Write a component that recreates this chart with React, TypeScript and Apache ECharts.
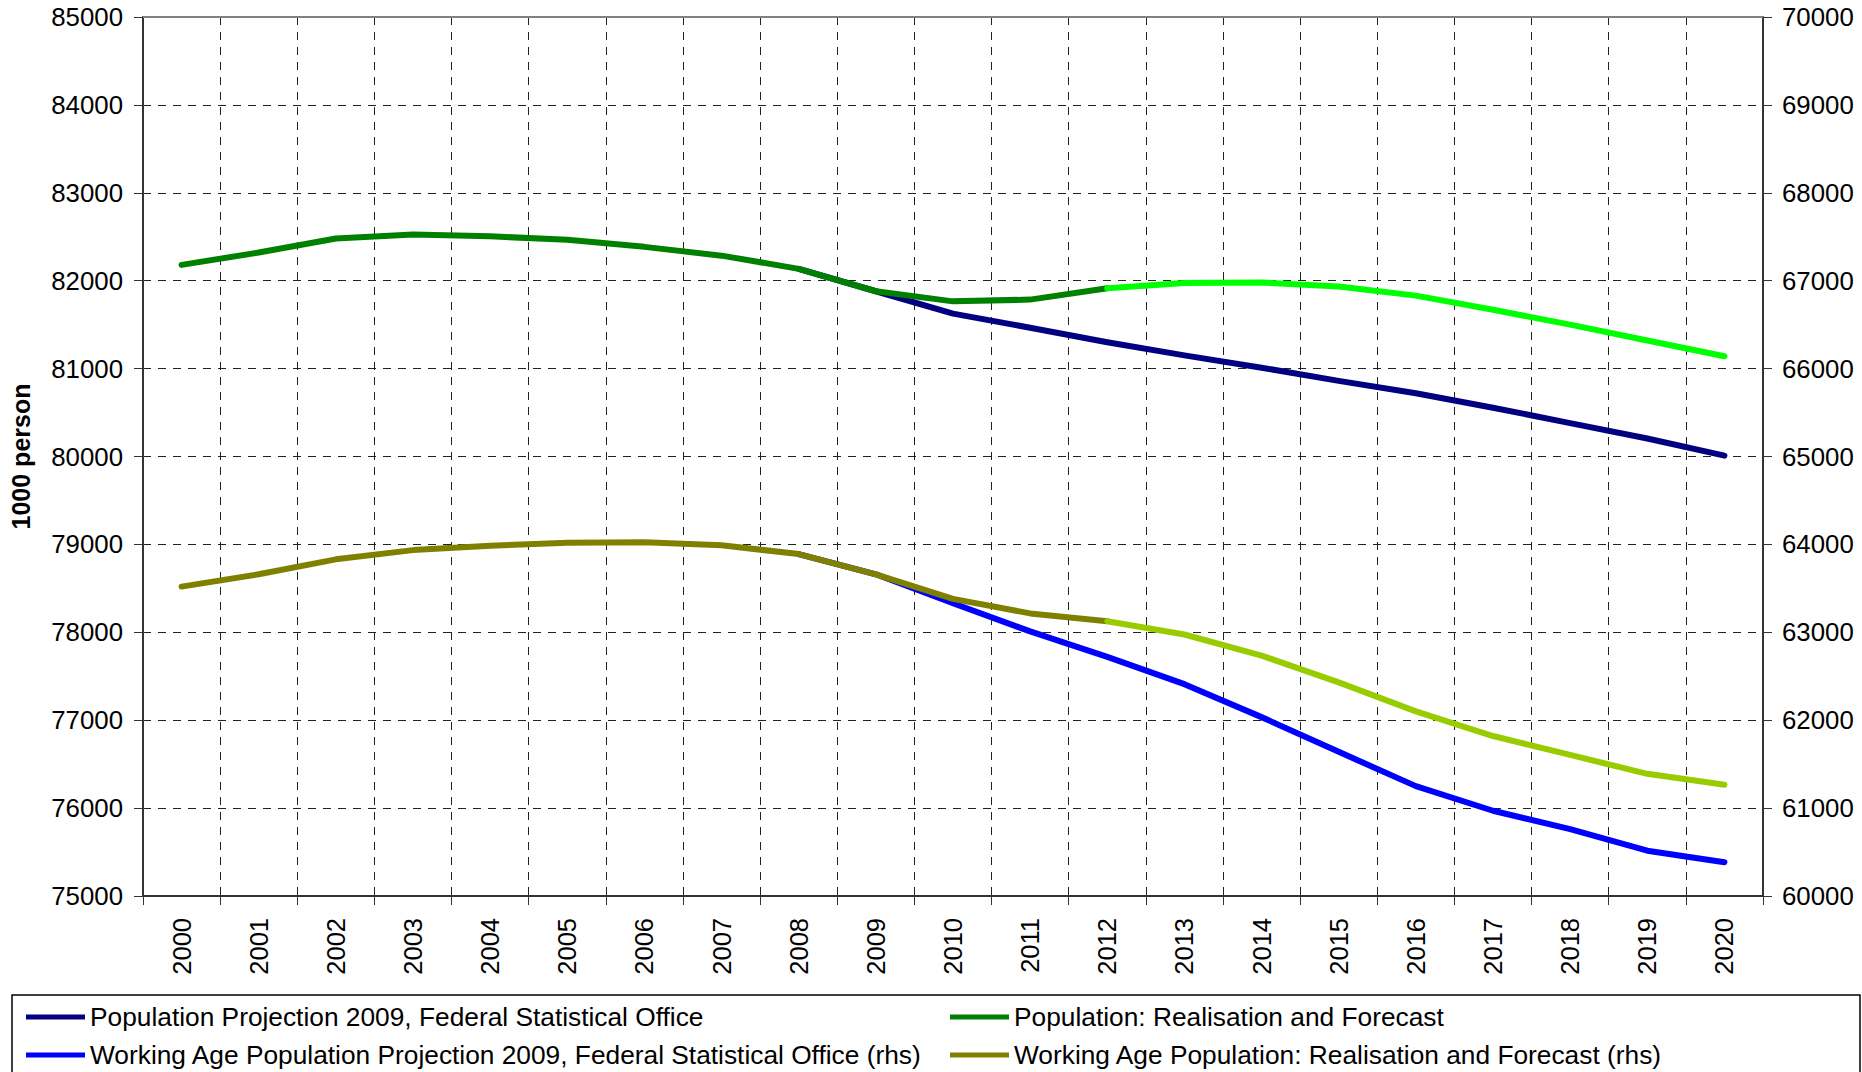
import React, { useEffect, useRef } from "react";
import * as echarts from "echarts";

const years = ["2000","2001","2002","2003","2004","2005","2006","2007","2008","2009","2010","2011","2012","2013","2014","2015","2016","2017","2018","2019","2020"];

const popProjection = [null,null,null,null,null,null,null,null,82135,81880,81625,81465,81300,81150,81010,80860,80720,80555,80380,80205,80010];
const popRealised = [82180,82320,82480,82525,82505,82465,82385,82285,82135,81880,81765,81785,81915,null,null,null,null,null,null,null,null];
const popForecast = [null,null,null,null,null,null,null,null,null,null,null,null,81915,81975,81980,81935,81830,81670,81500,81320,81140];
const waProjection = [null,null,null,null,null,null,null,null,63890,63660,63330,63010,62720,62410,62035,61640,61250,60970,60760,60515,60385];
const waRealised = [63520,63660,63830,63935,63985,64020,64025,63990,63890,63660,63380,63215,63125,null,null,null,null,null,null,null,null];
const waForecast = [null,null,null,null,null,null,null,null,null,null,null,null,63125,62975,62735,62430,62100,61820,61605,61390,61265];

const names = {
  popProj: "Population Projection 2009, Federal Statistical Office",
  popReal: "Population: Realisation and Forecast",
  waProj: "Working Age Population Projection 2009, Federal Statistical Office (rhs)",
  waReal: "Working Age Population: Realisation and Forecast (rhs)",
};

const FONT = "'Liberation Sans', Arial, sans-serif";

export default function App() {
  const ref = useRef<HTMLDivElement>(null);
  useEffect(() => {
    if (!ref.current) return;
    const chart = echarts.init(ref.current, null, { renderer: "svg" });
    const lineSeries = (name: string, data: any[], color: string, yAxisIndex: number, z: number) => ({
      name,
      type: "line",
      data,
      yAxisIndex,
      symbol: "none",
      connectNulls: false,
      z,
      itemStyle: { color },
      lineStyle: { color, width: 6, cap: "round", join: "round" },
    });
    const legendItem = (name: string, left: number, top: number) => ({
      orient: "horizontal",
      left,
      top,
      padding: 0,
      itemWidth: 59,
      itemHeight: 5,
      icon: "rect",
      data: [name],
      textStyle: { fontFamily: FONT, fontSize: 26.3, color: "#000", lineHeight: 30 },
    });
    const numFmt = (v: number) => String(v);
    chart.setOption({
      animation: false,
      backgroundColor: "#fff",
      textStyle: { fontFamily: FONT },
      grid: { left: 143, right: 99, top: 17, bottom: 176, containLabel: false },
      legend: [
        legendItem(names.popProj, 26, 1002),
        legendItem(names.popReal, 950, 1002),
        legendItem(names.waProj, 26, 1040),
        legendItem(names.waReal, 950, 1040),
      ],
      xAxis: {
        type: "category",
        data: years,
        boundaryGap: true,
        axisLine: { lineStyle: { color: "#333", width: 2 } },
        axisTick: { show: true, length: 9, lineStyle: { color: "#333", width: 1 } },
        axisLabel: { rotate: 90, margin: 22, fontSize: 25.5, color: "#000", fontFamily: FONT },
        splitLine: { show: true, lineStyle: { color: "#222", width: 1, type: [8, 7] } },
      },
      yAxis: [
        {
          type: "value",
          min: 75000,
          max: 85000,
          interval: 1000,
          name: "1000 person",
          nameLocation: "middle",
          nameRotate: 90,
          nameGap: 110,
          nameTextStyle: { fontFamily: FONT, fontSize: 25, fontWeight: "bold", color: "#000" },
          axisLine: { show: true, lineStyle: { color: "#333", width: 2 } },
          axisTick: { show: true, length: 9, lineStyle: { color: "#333", width: 1 } },
          axisLabel: { margin: 20, fontSize: 25.8, color: "#000", fontFamily: FONT, formatter: numFmt },
          splitLine: { show: true, lineStyle: { color: "#222", width: 1, type: [8, 7] } },
        },
        {
          type: "value",
          min: 60000,
          max: 70000,
          interval: 1000,
          position: "right",
          axisLine: { show: true, lineStyle: { color: "#333", width: 2 } },
          axisTick: { show: true, length: 9, lineStyle: { color: "#333", width: 1 } },
          axisLabel: { margin: 19, fontSize: 25.8, color: "#000", fontFamily: FONT, formatter: numFmt },
          splitLine: { show: false },
        },
      ],
      graphic: [
        {
          type: "line",
          z: 1,
          shape: { x1: 143, y1: 17, x2: 1763, y2: 17 },
          style: { stroke: "#808080", lineWidth: 2 },
        },
        {
          type: "rect",
          z: 0,
          shape: { x: 12, y: 995, width: 1848, height: 120 },
          style: { fill: "none", stroke: "#000", lineWidth: 1.5 },
        },
      ],
      series: [
        lineSeries(names.popProj, popProjection, "#000080", 0, 2),
        lineSeries(names.waProj, waProjection, "#0000ff", 1, 2),
        lineSeries(names.popReal, popRealised, "#008000", 0, 3),
        lineSeries("popForecast", popForecast, "#00ff00", 0, 3),
        lineSeries(names.waReal, waRealised, "#808000", 1, 3),
        lineSeries("waForecast", waForecast, "#99cc00", 1, 3),
      ],
    });
    return () => chart.dispose();
  }, []);
  return <div ref={ref} style={{ position: "fixed", left: 0, top: 0, width: 1862, height: 1072 }} />;
}
